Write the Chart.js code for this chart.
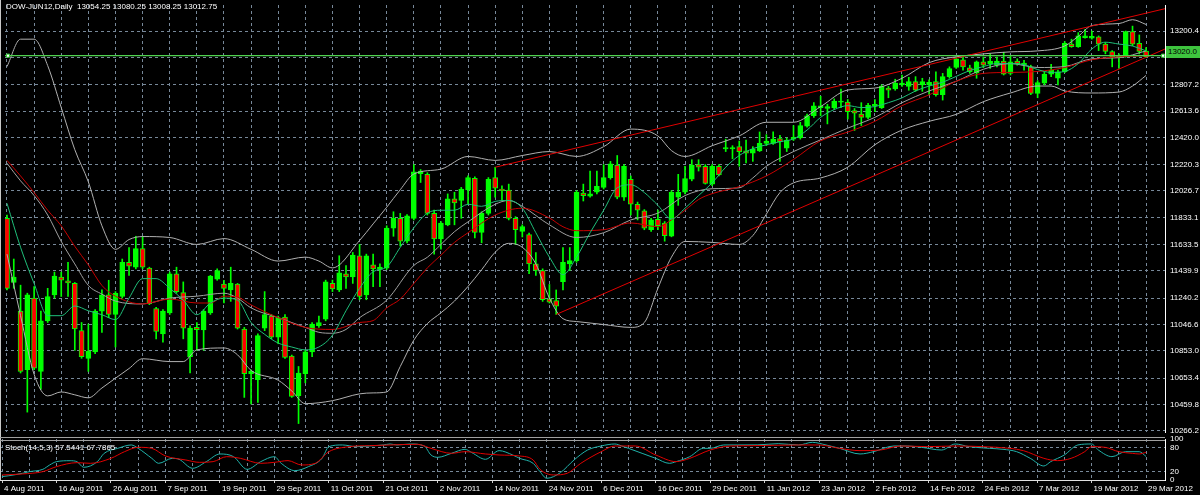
<!DOCTYPE html>
<html><head><meta charset="utf-8">
<script src="https://cdn.jsdelivr.net/npm/chart.js@4.4.0/dist/chart.umd.min.js"></script>
<style>
html,body{margin:0;padding:0;background:#000;width:1200px;height:495px;overflow:hidden;}
#wrap{position:relative;width:1200px;height:495px;background:#000;}
canvas{position:absolute;left:0;}
#main{top:0;}
#stoch{top:430px;}
.txt{position:absolute;color:#fff;font:8px "Liberation Sans",Arial,sans-serif;white-space:pre;line-height:10px;}
.ln{position:absolute;background:#a0a0a0;}
#pbox{position:absolute;left:1166px;top:46px;width:34px;height:12px;background:#3ec43e;color:#000;font:8px "Liberation Sans",Arial,sans-serif;line-height:12px;padding-left:2px;box-sizing:border-box;white-space:pre;}
</style></head>
<body><div id="wrap">
<canvas id="main" width="1200" height="437"></canvas>
<canvas id="stoch" width="1200" height="65"></canvas>
<div class="ln" style="left:0;top:0;width:1px;height:480px;background:#c8c8c8"></div>
<div class="ln" style="left:0;top:437px;width:1165px;height:1px;"></div>
<div class="ln" style="left:0;top:440px;width:1165px;height:1px;"></div>
<div class="txt" id="title" style="left:6px;top:2px;">DOW-JUN12,Daily  13054.25 13080.25 13008.25 13012.75</div>
<div class="txt" id="stl" style="left:5px;top:443px;">Stoch(14,5,3) 57.5441 67.7865</div>
<div id="pbox">13020.0</div>
</div>
<script>
const dates = ["4 Aug 2011","16 Aug 2011","26 Aug 2011","7 Sep 2011","19 Sep 2011","29 Sep 2011","11 Oct 2011","21 Oct 2011","2 Nov 2011","14 Nov 2011","24 Nov 2011","6 Dec 2011","16 Dec 2011","29 Dec 2011","11 Jan 2012","23 Jan 2012","2 Feb 2012","14 Feb 2012","24 Feb 2012","7 Mar 2012","19 Mar 2012","29 Mar 2012"];
const priceTicks = [13200.4,13006.8,12807.2,12613.6,12420.0,12220.3,12026.7,11833.1,11633.5,11439.9,11240.2,11046.6,10853.0,10653.4,10459.8,10266.2];
const hiddenTick = 13006.8;
const stochTicks = [100,80,20,0];

const open = [11826,11355,11144,10714,11240,10702,11073,11264,11395,11367,11348,11001,10798,10845,11144,11264,11120,11252,11503,11467,11603,11460,11163,10977,11132,11419,11280,10810,11025,11006,11132,11379,11343,11300,11343,11013,10685,10642,11020,11108,10953,11101,10814,10523,10685,10845,11037,11085,11348,11300,11419,11395,11551,11264,11484,11450,11460,11754,11826,11658,11826,12153,12149,11862,11675,11778,11969,11957,12034,12120,11723,11862,12125,12041,12034,11826,11730,11706,11491,11443,11235,11221,11360,11491,11515,12012,11988,12017,12053,12125,12216,11981,12113,11929,11881,11742,11819,11790,11694,11981,12017,12113,12220,12208,12077,12208,12335,12335,12352,12321,12304,12321,12376,12376,12412,12340,12407,12416,12503,12579,12639,12632,12639,12679,12679,12617,12591,12567,12651,12639,12782,12775,12806,12794,12830,12806,12806,12830,12734,12866,12933,12990,12931,12895,12974,12962,12950,12981,12890,12981,12950,12938,12742,12818,12885,12854,12902,13105,13086,13153,13148,13158,13105,13050,13009,13017,13196,13110,13054.25];
const high = [11850,11527,11335,11276,11324,11144,11312,11431,11431,11503,11355,11061,11049,11156,11300,11371,11288,11527,11611,11694,11694,11467,11173,11156,11431,11467,11359,11037,11061,11156,11407,11455,11371,11467,11348,11025,10714,10977,11288,11120,11108,11120,10822,10738,10857,11061,11108,11372,11372,11551,11479,11575,11634,11563,11563,11491,11771,11874,11862,11854,12220,12184,12161,11886,11802,12005,12017,12053,12137,12130,11874,12125,12201,12065,12077,11838,11778,11718,11575,11455,11340,11300,11611,11611,12029,12077,12173,12173,12220,12244,12287,12220,12137,11945,11890,11826,11886,11802,12029,12149,12208,12256,12256,12220,12220,12220,12407,12359,12393,12400,12352,12460,12440,12460,12436,12416,12507,12531,12591,12675,12722,12663,12703,12775,12698,12632,12675,12670,12698,12806,12794,12847,12878,12861,12866,12854,12842,12902,12890,12938,13009,13014,12950,12981,13009,13033,13009,13045,13014,12997,12986,12950,12837,12902,12957,12914,13124,13141,13189,13213,13201,13165,13117,13057,13033,13201,13237,13172,13080.25];
const low = [11300,11312,10690,10403,10714,10570,11061,11240,11252,11252,10857,10798,10702,10833,10989,11096,10881,11240,11407,11455,11455,11192,10941,10917,11120,11276,10941,10690,10857,10857,11120,11371,11204,11216,11013,10511,10463,10475,11001,10941,10905,10798,10511,10319,10618,10810,11025,11073,11288,11288,11312,11348,11228,11228,11324,11324,11450,11694,11622,11646,11814,12089,11850,11563,11599,11771,11778,11826,11933,11682,11646,11850,11981,11957,11814,11634,11689,11419,11407,11216,11204,11120,11300,11443,11503,11953,11981,12005,12041,12113,11969,11957,11850,11814,11742,11730,11742,11658,11690,11921,12005,12101,12173,12077,12065,12137,12316,12263,12208,12232,12244,12316,12359,12369,12244,12316,12397,12407,12495,12567,12579,12519,12627,12639,12555,12471,12507,12555,12608,12632,12711,12766,12794,12766,12758,12758,12734,12723,12694,12854,12926,12914,12890,12854,12933,12926,12938,12878,12878,12950,12914,12734,12711,12806,12866,12806,12895,13081,13081,13148,13141,13057,13033,12938,12926,13009,13093,13033,13008.25];
const close = [11312,11395,10702,11264,10726,11073,11252,11402,11371,11352,11013,10810,10850,11144,11264,11120,11276,11503,11474,11603,11467,11199,10996,11144,11419,11288,11020,11020,11008,11144,11402,11443,11312,11348,11020,10685,10702,10965,11120,10953,11096,10805,10518,10690,10845,11049,11061,11360,11307,11426,11395,11556,11252,11551,11455,11467,11754,11826,11658,11845,12168,12172,11862,11675,11790,11969,11938,12041,12125,11723,11862,12113,12048,12029,11826,11742,11766,11491,11443,11228,11211,11180,11503,11515,12017,11993,12005,12060,12125,12225,11981,12208,11929,11886,11754,11814,11771,11699,12017,12017,12117,12216,12201,12082,12208,12144,12345,12345,12316,12304,12335,12376,12393,12407,12388,12400,12421,12507,12579,12651,12651,12646,12687,12687,12608,12598,12567,12655,12663,12794,12766,12818,12818,12830,12766,12830,12825,12734,12866,12926,12997,12938,12902,12974,12950,12981,12981,12885,12974,12962,12966,12742,12823,12885,12914,12902,13110,13086,13165,13165,13162,13105,13052,13009,13021,13196,13105,13052,13012.75];

const maFast = [[0,11936],[2,11613],[4,11347],[6,11111],[8,11111],[10,11182],[12,11147],[14,11118],[16,11082],[18,11240],[20,11383],[22,11383],[24,11312],[26,11225],[28,11118],[30,11204],[32,11240],[34,11225],[36,11061],[38,10974],[40,10910],[42,10881],[44,10860],[46,10881],[48,10967],[50,11147],[52,11312],[54,11434],[56,11469],[58,11613],[60,11756],[62,11864],[64,11885],[66,11885],[68,11929],[70,11914],[72,11950],[74,11957],[76,11900],[78,11720],[80,11541],[82,11412],[84,11541],[86,11720],[88,11885],[90,12050],[92,12072],[94,12015],[96,11921],[98,11821],[100,11900],[102,11993],[104,12086],[106,12201],[108,12287],[110,12337],[112,12366],[114,12388],[116,12409],[118,12474],[120,12567],[122,12624],[124,12653],[126,12639],[128,12646],[130,12675],[132,12710],[134,12761],[136,12797],[138,12825],[140,12868],[142,12911],[144,12940],[146,12962],[148,12962],[150,12954],[152,12918],[154,12897],[156,12904],[158,12962],[160,13069],[162,13119],[164,13105],[166,13091],[168,13055]];
const maSlow = [[0,12251],[2,12137],[4,12015],[6,11885],[8,11771],[10,11620],[12,11484],[14,11333],[16,11254],[20,11197],[24,11233],[28,11204],[30,11204],[32,11254],[34,11247],[36,11190],[40,11096],[44,11025],[48,11010],[52,11061],[54,11075],[56,11168],[58,11233],[60,11347],[62,11462],[64,11555],[66,11649],[68,11720],[72,11850],[76,11900],[80,11828],[82,11764],[84,11735],[88,11742],[92,11792],[96,11764],[98,11814],[100,11885],[102,11964],[104,12007],[108,12058],[112,12137],[116,12258],[120,12395],[124,12459],[128,12538],[132,12653],[136,12732],[140,12832],[144,12890],[148,12897],[152,12904],[156,12933],[160,12990],[164,13012],[168,13019]];
const bbUpper = [[0,12940],[2,13141],[4,13141],[6,12947],[8,12639],[10,12330],[12,12093],[14,11771],[16,11598],[18,11670],[20,11692],[24,11685],[28,11634],[32,11677],[36,11598],[40,11512],[44,11541],[46,11512],[48,11462],[52,11663],[54,11785],[56,11907],[58,12036],[60,12151],[64,12187],[68,12280],[72,12251],[76,12287],[80,12316],[84,12280],[88,12352],[92,12481],[96,12431],[98,12323],[100,12280],[104,12359],[108,12431],[112,12531],[116,12531],[120,12646],[124,12768],[128,12782],[132,12854],[136,12969],[140,13012],[144,13033],[148,13048],[152,13055],[156,13091],[158,13162],[160,13241],[164,13256],[166,13284],[168,13249]];
const bbMiddle = [[0,12230],[2,12101],[4,11993],[6,11850],[8,11656],[10,11491],[12,11333],[14,11269],[16,11218],[20,11197],[24,11240],[28,11254],[32,11276],[34,11240],[36,11168],[40,11096],[44,11025],[46,10989],[48,10982],[50,11010],[52,11096],[56,11225],[60,11480],[62,11540],[64,11634],[66,11728],[68,11800],[72,11929],[74,11957],[76,11914],[80,11778],[84,11685],[88,11720],[92,11814],[96,11864],[100,11993],[104,12043],[108,12050],[110,12122],[112,12208],[116,12316],[120,12402],[124,12488],[128,12567],[132,12675],[136,12761],[140,12832],[144,12920],[148,12962],[152,12933],[156,12940],[160,12997],[164,13005],[168,13055]];
const bbLower = [[0,11563],[2,11111],[4,10680],[6,10522],[8,10551],[10,10530],[12,10508],[14,10580],[16,10652],[18,10723],[20,10795],[24,10774],[26,10774],[28,10860],[32,10874],[34,10824],[36,10709],[40,10637],[42,10558],[44,10465],[48,10487],[52,10537],[54,10544],[56,10551],[58,10738],[60,10931],[62,11053],[64,11132],[66,11218],[68,11326],[70,11448],[72,11577],[74,11642],[76,11613],[78,11491],[80,11240],[82,11089],[84,11068],[88,11046],[92,11025],[94,11061],[96,11312],[98,11541],[100,11656],[104,11649],[108,11634],[110,11699],[112,11857],[114,12015],[116,12086],[120,12122],[124,12201],[128,12366],[132,12474],[136,12538],[140,12589],[144,12682],[148,12746],[152,12797],[154,12797],[156,12761],[160,12746],[164,12753],[166,12797],[168,12875]];
const trendUpper = [[72,12201],[170.8,13365]];
const trendLower = [[81,11120],[170.8,13069]];
const hLevel = 13020.0;

const stochMain = [[0,7.8],[1,10],[3,16],[4,20],[6,25.8],[7,36.5],[8,44.7],[10,47],[11,44.7],[12,30.8],[14,44.7],[15,65.2],[17,77.5],[19,85.8],[20,77.5],[22,52.9],[23,40.6],[25,52.9],[26,50.5],[28,28.3],[30,44.7],[32,63.6],[34,57],[36,25.8],[38,44.7],[40,57],[41,40.6],[43,22.5],[45,32.4],[47,52.9],[48,81.7],[50,85.8],[52,81.7],[54,83.3],[56,85.8],[57,88.2],[58,85.8],[60,88.2],[62,83.3],[63,61.1],[64,55.4],[66,65.2],[68,75.1],[69,66.9],[71,50.5],[73,71.8],[75,61.1],[76,52.9],[78,40.6],[79,20.1],[80,3.7],[82,17.6],[84,48.8],[86,73.4],[88,83.3],[90,88.2],[91,83.3],[92,77.5],[94,65.2],[96,52.9],[98,40.6],[99,44.7],[101,57],[103,77.5],[104,77.5],[106,85.8],[108,85.8],[111,86],[114,89],[117,85.8],[119,92.3],[121,85.8],[123,77.5],[126,63.6],[128,69.3],[131,83.3],[133,83.3],[135,80],[138,73.4],[140,88.2],[142,81.7],[145,77.5],[147,75.1],[149,69.3],[151,52.9],[153,34],[154,44.7],[156,61.1],[158,85.8],[160,88.2],[161,73.4],[163,57],[165,69.3],[167,69.3],[168,57.5441]];
const stochSignal = [[0,11.9],[3,14.4],[6,20.1],[8,32.4],[11,42.2],[13,40.6],[16,52.9],[18,69.3],[20,80],[22,77.5],[24,58.7],[27,48.8],[29,43],[31,44.7],[33,57],[35,52.9],[38,40.6],[40,43],[42,47.2],[44,36.5],[46,40.6],[48,69.3],[51,81.7],[54,84.1],[57,85.8],[61,87.4],[63,77.5],[66,65.2],[68,69.3],[71,63.6],[73,61.1],[76,58.7],[78,48.8],[79,25.8],[81,11.9],[83,16],[85,40.6],[88,69.3],[90,83.3],[93,83.3],[96,61.1],[99,44.7],[101,52.9],[104,73.4],[107,83.3],[110,84.1],[117,85.8],[120,85.8],[123,77.5],[126,71.8],[129,73.4],[132,83.3],[136,81.7],[140,83.3],[144,81.7],[148,77.5],[150,71.8],[153,52.9],[155,47.2],[157,52.9],[159,69.3],[160,81.7],[162,80],[164,69.3],[166,65.2],[167,63.6],[168,67.7865]];

const X_MIN = -0.294, X_MAX = 170.79;
const GRID = '#778899';
const FONT = {family: "'Liberation Sans', Arial, sans-serif", size: 8};
const gridBars = Array.from({length: 43}, (_, k) => k * 4);

const pts = arr => arr.map(p => ({x: p[0], y: p[1]}));
const wick = open.map((o, i) => ({x: i, y: [low[i], high[i]]}));
const body = open.map((o, i) => ({x: i, y: [Math.min(o, close[i]), Math.max(o, close[i])]}));
const bodyColor = open.map((o, i) => close[i] >= o ? '#00ff00' : '#ff0000');
const lineDs = (arr, color, order) => ({type: 'line', data: pts(arr), borderColor: color, borderWidth: 1, pointRadius: 0, cubicInterpolationMode: 'monotone', order: order});

new Chart(document.getElementById('main'), {
  type: 'bar',
  data: {datasets: [
    {type: 'line', data: [{x: 0.15, y: hLevel}, {x: 170.5, y: hLevel}], showLine: false, pointStyle: 'rect', pointRadius: 2.2, pointBackgroundColor: '#ffffff', pointBorderColor: '#33cc33', pointBorderWidth: 1, order: -1},
    {type: 'line', data: [{x: X_MIN, y: hLevel}, {x: X_MAX, y: hLevel}], borderColor: '#4fd24f', borderWidth: 1.3, pointRadius: 0, order: 0},
    {type: 'line', data: pts(trendUpper), borderColor: '#e00000', borderWidth: 1, pointRadius: 0, order: 1},
    {type: 'line', data: pts(trendLower), borderColor: '#e00000', borderWidth: 1, pointRadius: 0, order: 1},
    lineDs(maFast, '#1fbf7a', 2),
    lineDs(maSlow, '#c80000', 2),
    lineDs(bbUpper, '#b0b0b0', 3),
    lineDs(bbMiddle, '#a0a0a0', 3),
    lineDs(bbLower, '#b0b0b0', 3),
    {type: 'bar', data: body, backgroundColor: bodyColor, borderColor: '#00ff00', borderWidth: 1, borderSkipped: false, barThickness: 5, minBarLength: 1, grouped: false, order: 5},
    {type: 'bar', data: wick, backgroundColor: '#00ff00', borderWidth: 0, barThickness: 1, grouped: false, order: 6}
  ]},
  options: {
    responsive: false, animation: false, events: [],
    layout: {padding: 0},
    plugins: {legend: {display: false}, tooltip: {enabled: false}},
    scales: {
      x: {type: 'linear', min: X_MIN, max: X_MAX, offset: false,
        afterBuildTicks: s => { s.ticks = gridBars.map(v => ({value: v})); },
        ticks: {display: false},
        grid: {color: GRID, drawTicks: false, offset: false},
        border: {display: false, dash: [3, 3]},
        afterFit: s => { s.height = 0; s.paddingLeft = 0; s.paddingRight = 0; }},
      y: {position: 'right', min: 10257, max: 13392, beginAtZero: false,
        afterBuildTicks: s => { s.ticks = priceTicks.map(v => ({value: v})); },
        ticks: {color: '#ffffff', font: FONT, padding: 5, crossAlign: 'near', callback: v => v === hiddenTick ? '' : Number(v).toFixed(1)},
        grid: {color: GRID, drawTicks: false},
        border: {display: true, color: '#ffffff', dash: [3, 3]},
        afterFit: s => { s.width = 35; s.paddingTop = 0; s.paddingBottom = 0; }}
    }
  }
});

new Chart(document.getElementById('stoch'), {
  type: 'line',
  data: {datasets: [
    {data: pts(stochMain), borderColor: '#20b2aa', borderWidth: 1, pointRadius: 0, cubicInterpolationMode: 'monotone', order: 1},
    {data: pts(stochSignal), borderColor: '#e00000', borderWidth: 1, pointRadius: 0, cubicInterpolationMode: 'monotone', order: 0}
  ]},
  options: {
    responsive: false, animation: false, events: [],
    layout: {padding: {top: 9, left: 0, right: 0, bottom: 0}},
    plugins: {legend: {display: false}, tooltip: {enabled: false}},
    scales: {
      x: {type: 'linear', min: X_MIN, max: X_MAX, offset: false,
        afterBuildTicks: s => { s.ticks = gridBars.map(v => ({value: v})); },
        ticks: {color: '#ffffff', font: FONT, align: 'start', autoSkip: false, maxRotation: 0, minRotation: 0, padding: 1, labelOffset: 2,
          callback: v => (v % 8 === 0 && dates[v / 8]) ? dates[v / 8] : ''},
        grid: {color: GRID, drawTicks: true, tickLength: 3, tickColor: c => (c.tick && c.tick.value % 8 === 0) ? '#d0d0d0' : 'rgba(0,0,0,0)'},
        border: {display: true, color: '#e0e0e0', dash: [3, 3]},
        afterFit: s => { s.height = 15; s.paddingLeft = 0; s.paddingRight = 0; }},
      y: {position: 'right', min: -0.5, max: 100.5,
        afterBuildTicks: s => { s.ticks = stochTicks.map(v => ({value: v})); },
        ticks: {color: '#ffffff', font: FONT, padding: 5, crossAlign: 'near'},
        grid: {color: c => (c.tick && (c.tick.value === 80 || c.tick.value === 20)) ? GRID : 'rgba(0,0,0,0)', drawTicks: false},
        border: {display: true, color: '#ffffff', dash: [3, 3]},
        afterFit: s => { s.width = 35; s.paddingTop = 0; s.paddingBottom = 0; }}
    }
  }
});
</script>
</body></html>
